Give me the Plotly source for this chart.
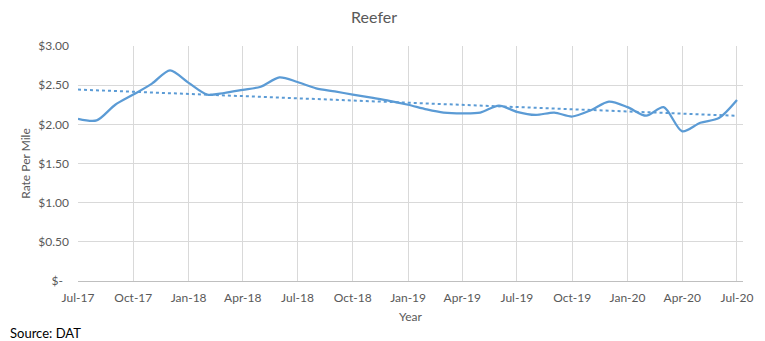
import numpy as np
import pandas as pd
import plotly.graph_objects as go

# Monthly reefer spot rate ($ per mile), Jul 2017 - Jul 2020
months = pd.date_range("2017-07-01", "2020-07-01", freq="MS")
rates = [
    2.07, 2.05, 2.25, 2.38, 2.52, 2.69, 2.53, 2.38, 2.40, 2.44,
    2.48, 2.60, 2.54, 2.46, 2.42, 2.38, 2.34, 2.30, 2.25, 2.19,
    2.15, 2.14, 2.15, 2.24, 2.16, 2.12, 2.15, 2.10, 2.18, 2.29,
    2.22, 2.11, 2.22, 1.91, 2.02, 2.08, 2.31,
]

y_ticks = [0, 0.5, 1.0, 1.5, 2.0, 2.5, 3.0]
y_tick_labels = ["$-\u00a0\u00a0", "$0.50", "$1.00", "$1.50", "$2.00", "$2.50", "$3.00"]
x_ticks = pd.date_range("2017-07-01", "2020-07-01", freq="3MS")
x_tick_labels = [d.strftime("%b-%y") for d in x_ticks]

# Linear trend line fitted on day offsets
days = np.array([(d - months[0]).days for d in months], dtype=float)
slope, intercept = np.polyfit(days, np.array(rates), 1)
trend = slope * days + intercept

BLUE = "#5B9BD5"
GRID = "#D9D9D9"
TEXT = "#595959"
FONT = "Lato"

fig = go.Figure()
fig.add_trace(go.Scatter(
    x=months, y=rates, mode="lines",
    line=dict(color=BLUE, width=2.25, shape="spline", smoothing=0.8),
    showlegend=False, hoverinfo="x+y",
))
fig.add_trace(go.Scatter(
    x=months, y=trend, mode="lines",
    line=dict(color=BLUE, width=2, dash="dot"),
    showlegend=False, hoverinfo="skip",
))

fig.update_layout(
    width=765, height=341,
    margin=dict(l=78, r=18, t=46, b=60),
    paper_bgcolor="white", plot_bgcolor="white",
    font=dict(family=FONT, color=TEXT, size=12),
    title=dict(text="Reefer", x=0.489, xanchor="center", y=0.95, yanchor="middle",
               font=dict(family=FONT, size=16, color=TEXT)),
    xaxis=dict(
        type="date",
        range=[pd.Timestamp("2017-07-01"), pd.Timestamp("2020-07-11")],
        tickvals=x_ticks, ticktext=x_tick_labels,
        showgrid=True, gridcolor=GRID, gridwidth=1,
        showline=True, linecolor="#BFBFBF", linewidth=1,
        zeroline=False, ticks="", ticklen=0, ticklabelstandoff=6,
        tickfont=dict(size=12, color=TEXT),
        title=dict(text="Year", font=dict(size=12, color=TEXT), standoff=8),
    ),
    yaxis=dict(
        range=[0, 3.0],
        tickvals=y_ticks, ticktext=y_tick_labels,
        showgrid=True, gridcolor=GRID, gridwidth=1,
        showline=False, zeroline=False, ticks="", ticklabelstandoff=8,
        tickfont=dict(size=12, color=TEXT),
        title=dict(text="Rate Per Mile", font=dict(size=12, color=TEXT), standoff=5),
    ),
    annotations=[dict(
        text="Source: DAT", xref="paper", yref="paper",
        x=-70 / 669, y=-52 / 235, xanchor="left", yanchor="middle",
        showarrow=False, font=dict(family=FONT, size=13, color="#000000"),
    )],
)

fig.write_html("out.html")
